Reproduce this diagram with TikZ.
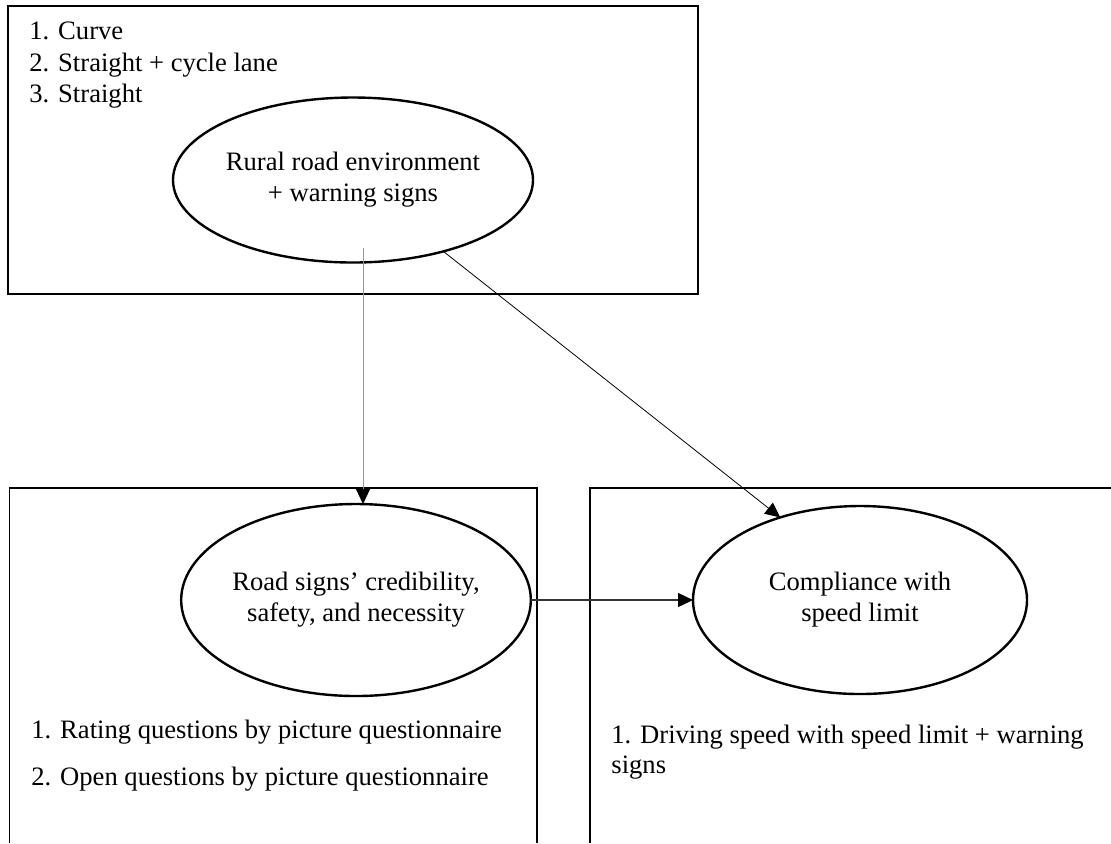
\documentclass[tikz,border=0pt]{standalone}
\usepackage{fontspec}
\setmainfont{Liberation Serif}
\usetikzlibrary{shapes.geometric,arrows.meta}
\definecolor{DropClr}{rgb}{0.6,0.6,0.6}
\definecolor{LinkClr}{rgb}{0.2,0.2,0.2}

\begin{document}
\begin{tikzpicture}[x=0.5pt,y=-0.5pt,
  font=\fontsize{13.3}{15.5}\selectfont,
  frame/.style={line width=0.9pt},
  bubble/.style={draw,ellipse,line width=1.2pt,align=center,inner sep=0pt,outer sep=0pt},
  item/.style={anchor=base west,inner sep=0pt},
  link/.style={-{Triangle[length=7.5pt,width=7pt,color=black]}}]
\useasboundingbox (0,0) rectangle (1111,843);

\draw[frame] (8,6) rectangle (698,294);
\draw[frame] (9.5,843) |- (537,488) -- (537,843);
\draw[frame] (590,843) |- (1111,488);

\node[item] (curve) at (29,39) {1. Curve};
\node[item] (lane) at (29,71) {2. Straight + cycle lane};
\node[item] (straight) at (29,102) {3. Straight};

\node[bubble,minimum width=180pt,minimum height=82.5pt] (rural) at (353,180) {Rural road environment\\+ warning signs};
\node[bubble,minimum width=165pt,minimum height=96pt] (signs) at (356,600) {Road signs’ credibility,\\safety, and necessity};
\node[bubble,minimum width=167pt,minimum height=94pt] (comply) at (860,600) {Compliance with\\speed limit};

\node[item] (rating) at (31,738) {1. Rating questions by picture questionnaire};
\node[item] (open) at (31,785) {2. Open questions by picture questionnaire};
\node[item] (driving) at (611,743) {1. Driving speed with speed limit + warning};
\node[item] (signsword) at (611,773) {signs};

\coordinate (drop) at (363,248);
\draw[link,draw=DropClr,line width=0.5pt] (drop) -- (drop |- signs.north);
\draw[link,draw=black,line width=0.4pt] (rural) -- (comply.134);
\draw[link,draw=LinkClr,line width=0.6pt] (signs) -- (comply);

\end{tikzpicture}
\end{document}
